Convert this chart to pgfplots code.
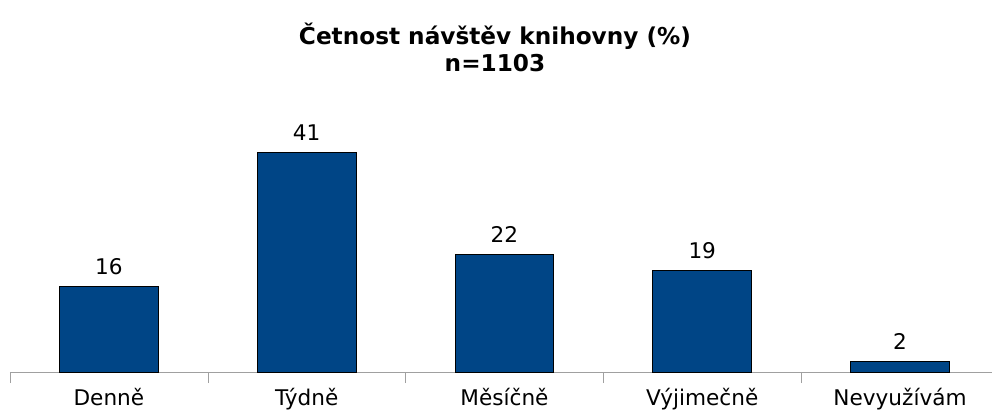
\documentclass[border=0pt]{standalone}
\usepackage{pgfplots}
\pgfplotsset{compat=1.18}
\usepackage{fontspec}
\setmainfont{DejaVu Sans}
\definecolor{barblue}{RGB}{0,69,134}
\definecolor{axgray}{RGB}{160,160,160}
\begin{document}
\fontsize{10.8}{12}\selectfont
\begin{tikzpicture}
\useasboundingbox (-5pt,-23pt) rectangle (491pt,186pt);
\begin{axis}[
  scale only axis,
  width=491pt, height=120.4pt,
  xmin=-0.5, xmax=4.465,
  ymin=0, ymax=45,
  axis x line*=bottom,
  axis y line=none,
  x axis line style={draw=axgray},
  ytick=\empty,
  xtick={0,1,2,3,4},
  xticklabels={Denně,Týdně,Měsíčně,Výjimečně,Nevyužívám},
  major x tick style={draw=none},
  extra x ticks={-0.5,0.5,1.5,2.5,3.5},
  extra x tick labels={},
  extra x tick style={major tick length=5.5pt, tick align=outside, major x tick style={draw=axgray}},
  xticklabel style={font=\fontsize{10.8}{12}\selectfont, yshift=-4.5pt},
  /pgf/number format/assume math mode=true,
  clip=false,
  nodes near coords,
  every node near coord/.append style={font=\fontsize{10.8}{12}\selectfont, yshift=2pt},
]
\addplot[ybar, bar width=0.5, fill=barblue, draw=black, line width=0.5pt]
  coordinates {(0,16) (1,41) (2,22) (3,19) (4,2)};
\end{axis}
\node[font=\bfseries\fontsize{11.6}{13}\selectfont] at (242.5pt,168pt) {Četnost návštěv knihovny (\%)};
\node[font=\bfseries\fontsize{11.6}{13}\selectfont] at (242.5pt,154.5pt) {n=1103};
\end{tikzpicture}
\end{document}
